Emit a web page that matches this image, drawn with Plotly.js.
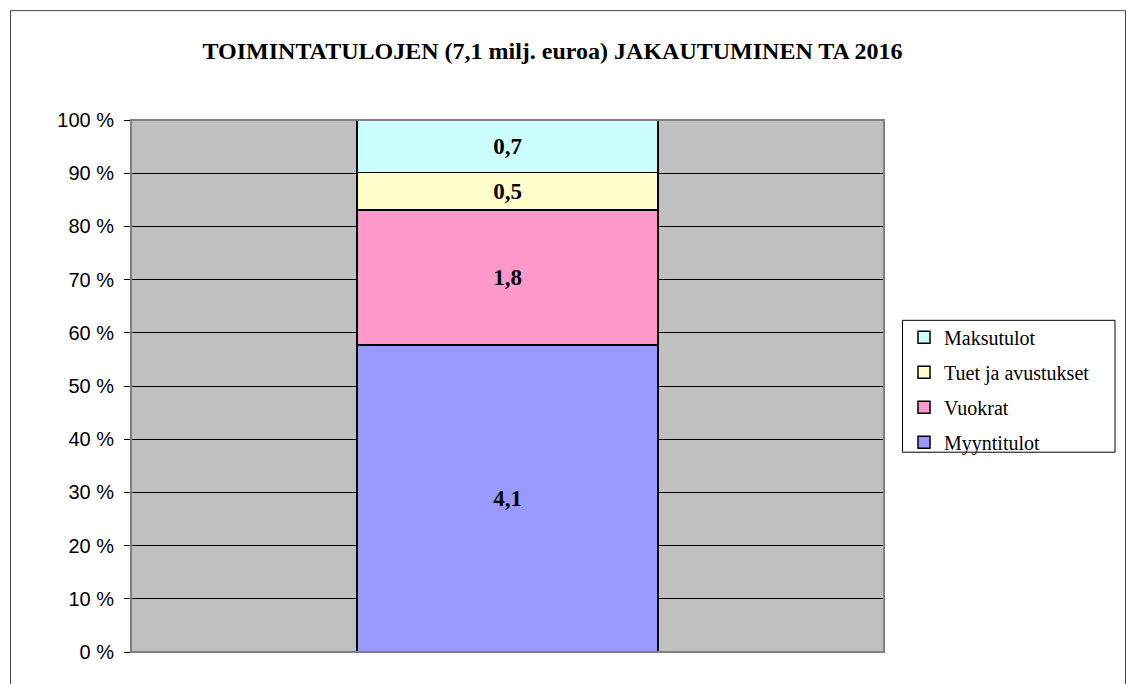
<!DOCTYPE html>
<html>
<head>
<meta charset="utf-8">
<script src="https://cdn.plot.ly/plotly-3.0.1.min.js"></script>
<style>html,body{margin:0;padding:0;background:#fff;}</style>
</head>
<body>
<div id="chart" style="width:1127px;height:684px;"></div>
<script>
var categories = ['TA 2016'];
var seriesNames = ['Myyntitulot', 'Vuokrat', 'Tuet ja avustukset', 'Maksutulot'];
var seriesValues = [[4.1], [1.8], [0.5], [0.7]];
var seriesColors = ['#9999FF', '#FF99CC', '#FFFFCC', '#CCFFFF'];
var yTickVals = [0, 10, 20, 30, 40, 50, 60, 70, 80, 90, 100];
var yTickText = ['0 %', '10 %', '20 %', '30 %', '40 %', '50 %', '60 %', '70 %', '80 %', '90 %', '100 %'];
var chartTitle = 'TOIMINTATULOJEN (7,1 milj. euroa) JAKAUTUMINEN TA 2016';

function fmt(v) { return v.toFixed(1).replace('.', ','); }

var serifFont = '"Liberation Serif", "Times New Roman", serif';

var traces = seriesNames.map(function (name, i) {
  return {
    type: 'bar',
    name: name,
    x: categories,
    y: seriesValues[i],
    width: 0.4,
    legendgroup: 'g' + i,
    legendrank: seriesNames.length - i,
    marker: { color: seriesColors[i], line: { color: '#000000', width: 1.5 } },
    text: seriesValues[i].map(fmt),
    textposition: 'inside',
    insidetextanchor: 'middle',
    textangle: 0,
    textfont: { family: serifFont, size: 23, color: '#000000', weight: 'bold' },
    hoverinfo: 'name+text'
  };
});

// plot area pixel box: x 131..884, y 120..652.5
var L = 131, R = 884, T = 120, B = 652.5;
function px(x) { return (x - L) / (R - L); }
function py(y) { return (B - y) / (B - T); }

var layout = {
  width: 1127,
  height: 684,
  margin: { l: L, r: 1127 - R, t: T, b: 684 - B, pad: 0 },
  paper_bgcolor: '#ffffff',
  plot_bgcolor: '#C0C0C0',
  barmode: 'stack',
  barnorm: 'percent',
  showlegend: true,
  title: {
    text: '<b>' + chartTitle + '</b>',
    font: { family: serifFont, size: 24, color: '#000000' },
    xref: 'container', yref: 'container',
    x: 552.5 / 1127, xanchor: 'center',
    y: 1 - 51 / 684, yanchor: 'middle'
  },
  xaxis: {
    type: 'category',
    range: [-0.5, 0.5],
    showticklabels: false,
    ticks: '',
    showgrid: false,
    zeroline: false,
    showline: false,
    fixedrange: true
  },
  yaxis: {
    range: [0, 100],
    tickvals: yTickVals,
    ticktext: yTickText,
    ticks: 'outside',
    ticklen: 6,
    tickcolor: '#000000',
    tickwidth: 1,
    ticklabelstandoff: 6,
    tickfont: { family: '"Liberation Sans", Arial, sans-serif', size: 20, color: '#000000' },
    showgrid: true,
    gridcolor: '#000000',
    gridwidth: 1,
    zeroline: false,
    showline: false,
    fixedrange: true
  },
  legend: {
    x: px(904), xanchor: 'left',
    y: py(318), yanchor: 'top',
    bgcolor: 'rgba(0,0,0,0)',
    borderwidth: 0,
    traceorder: 'grouped',
    tracegroupgap: 6,
    itemwidth: 30,
    font: { family: serifFont, size: 20, color: '#000000' }
  },
  shapes: [
    // plot area border
    { type: 'rect', xref: 'paper', yref: 'paper', x0: 0, x1: 1, y0: 0, y1: 1,
      line: { color: '#808080', width: 2 }, layer: 'above' },
    // legend box
    { type: 'rect', xref: 'paper', yref: 'paper', x0: px(902.5), x1: px(1115), y0: py(320.5), y1: py(452.5),
      line: { color: '#000000', width: 1 }, fillcolor: 'rgba(0,0,0,0)' },
    // outer chart border
    { type: 'rect', xref: 'paper', yref: 'paper', x0: px(10.5), x1: px(1125.5), y0: py(700), y1: py(10.5),
      line: { color: '#444444', width: 1 }, fillcolor: 'rgba(0,0,0,0)' }
  ]
};

Plotly.newPlot('chart', traces, layout, { displayModeBar: false, responsive: false });
</script>
</body>
</html>
